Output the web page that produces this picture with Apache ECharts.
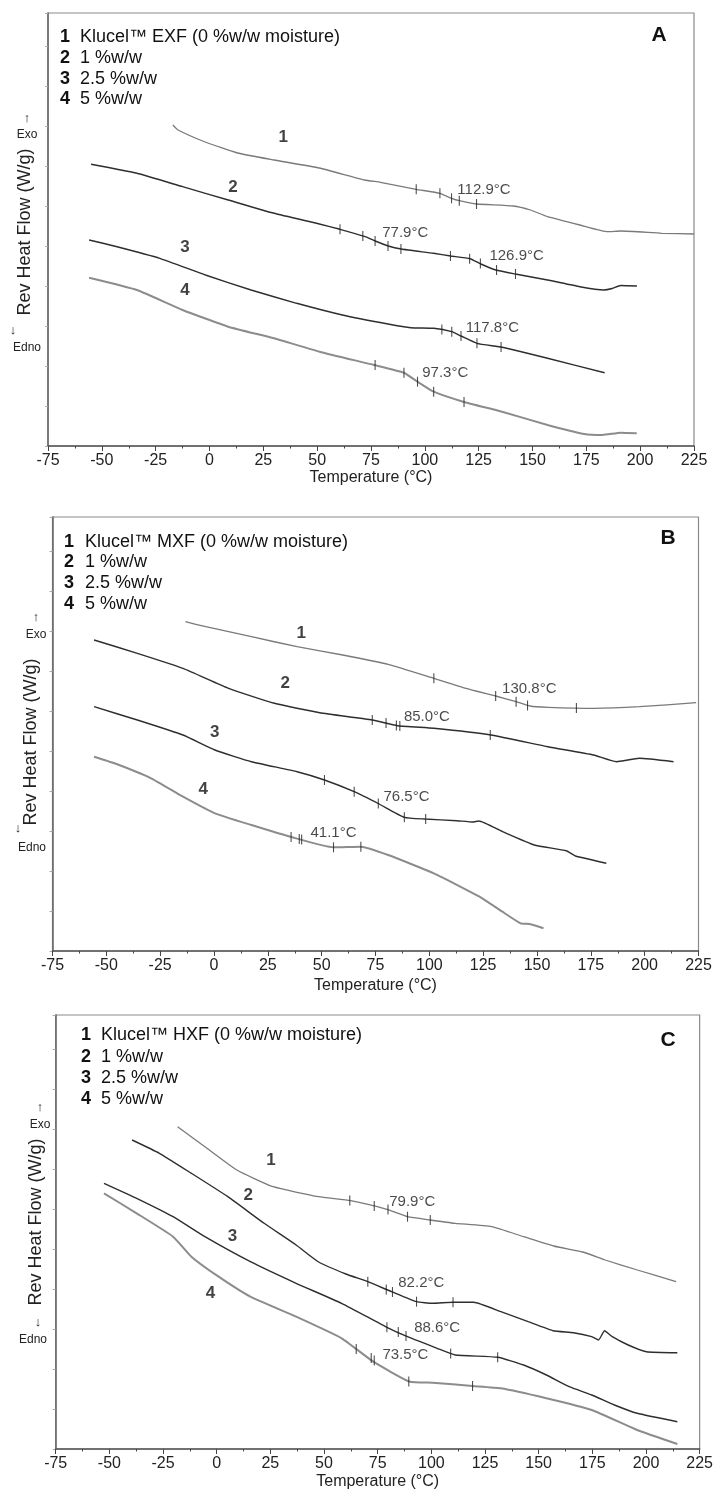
<!DOCTYPE html>
<html>
<head>
<meta charset="utf-8">
<title>Klucel rev heat flow</title>
<script src="https://cdn.jsdelivr.net/npm/echarts@6/dist/echarts.min.js"></script>
<style>
  html, body { margin: 0; background: #fff; }
  #chart { width: 716px; height: 1492px; }
</style>
</head>
<body>
<div id="chart"></div>
<script>
// temperature axis
var xMin = -75, xMax = 225, xStep = 25;

var legendNums = ['1', '2', '3', '4'];

// ---- panel A : Klucel EXF ----  [temperature, heat flow (arbitrary units)]
var aLegend = ['Klucel\u2122 EXF (0 %w/w moisture)', '1 %w/w', '2.5 %w/w', '5 %w/w'];
var aCurve1 = [[-17,321],[-14.6,316],[-2,304],[13,293],[30,286],[51,278],[72,266],[79.4,263.7],[96,256.7],[107,252.7],[112.4,247.7],[116,245.3],[124,242],[141,240],[149,236],[157,229.3],[172,221],[185,214.3],[191,215],[210,212.7],[225,212]];
var aCurve2 = [[-55,281.7],[-33.7,272.7],[-12.5,259.3],[8.7,246],[30,232.7],[51,222],[60.6,216.7],[72.3,209.3],[76.9,205],[83,200],[89,197],[104,192.7],[112,190],[121,187.3],[126,182],[133,176],[142,172],[157,166],[172,159.3],[183,156],[187,157.5],[191,160.5],[198.5,160]];
var aCurve3 = [[-55.9,206],[-44.3,200],[-23.1,187.7],[-1.9,171],[19.3,156],[40.5,142.7],[61.7,131],[82.9,122],[93.5,118.3],[104.1,117.7],[112.5,114.3],[116.8,110],[124.2,102.7],[135.9,98.7],[157,87.7],[183.5,73.3]];
var aCurve4 = [[-55.9,168.3],[-33.7,156],[-12.5,136],[8.7,119.3],[29.9,107.7],[51.1,94.3],[76.5,81],[90.3,73.3],[96.6,64.3],[104.1,54.3],[117.8,44.3],[135.9,34.3],[157,21],[174,12],[182.5,11],[191,13.3],[198.4,12.7]];
var aTicks = [[96,256.7],[107,252.7],[112.4,247.7],[116,245.3],[124,242],
  [60.6,216.7],[71.2,210],[76.9,205],[82.9,200],[88.9,197],
  [111.9,190],[120.8,187.3],[125.8,182.5],[133.3,176],[142.1,172],
  [107.9,116.5],[112.5,114.3],[116.8,110],[124.2,102.7],[135.4,98.9],
  [76.9,81],[90.3,73.3],[96.6,64.3],[104.1,54.3],[118.2,44]];
var aTgText = ['112.9\u00b0C', '77.9\u00b0C', '126.9\u00b0C', '117.8\u00b0C', '97.3\u00b0C'];
var aTgPos = [[115.1,256],[80.2,212.7],[130,190],[119,118],[98.8,73]];
var aNumPos = [[34.2,309],[10.9,259],[-11.4,199],[-11.4,156]];

// ---- panel B : Klucel MXF ----
var bLegend = ['Klucel\u2122 MXF (0 %w/w moisture)', '1 %w/w', '2.5 %w/w', '5 %w/w'];
var bCurve1 = [[-13.3,329.3],[-3.8,324.3],[17.4,314.3],[38.6,304.3],[59.8,296],[80.9,286.7],[102.1,272.7],[117,262.7],[130.8,255],[140.3,249.3],[146.7,245],[155.1,243.7],[176.3,242.7],[197.5,244.3],[223.9,248.3]];
var bCurve2 = [[-55.7,311],[-35.6,297.7],[-14.4,282.7],[6.8,262.7],[28,247.7],[49.1,238.3],[73.5,231],[85.2,225.3],[102.1,222.7],[128.6,216],[155.1,204.3],[176.3,196],[186.9,189.3],[197.5,192.7],[213.4,189.3]];
var bCurve3 = [[-55.7,244.3],[-35.6,231],[-14.4,216],[0.4,201],[17.4,189.3],[38.6,179.3],[51.3,171],[65.1,159.3],[76.7,147],[88.4,133.7],[97.9,132],[112.8,130.3],[120,129],[123,130],[134,119.3],[148.7,106],[163.6,100.3],[167.8,95],[182.2,87.7]];
var bCurve4 = [[-55.7,194.3],[-46.2,187.7],[-29.2,172.7],[-14.4,154.3],[0.4,137.7],[17.4,126],[36.4,113.7],[55.5,103.7],[68.2,104.3],[80.9,96],[102.1,77.7],[123.3,54.3],[133.9,39.3],[142.4,27.7],[146.6,27],[153,22.7]];
var bTicks = [[102.1,272.7],[130.8,255],[140.3,249.3],[145.6,245.5],[168.3,243],
  [73.5,231],[79.9,228],[84.7,225.5],[86.3,225],[128.3,216],
  [51.3,171],[65.1,159.3],[76.3,147.5],[88.4,133.7],[98.3,132],
  [35.8,114],[39.6,112],[40.7,111.5],[55.5,103.7],[68.2,104.3]];
var bTgText = ['130.8\u00b0C', '85.0\u00b0C', '76.5\u00b0C', '41.1\u00b0C'];
var bTgPos = [[133.8,262],[88.2,234],[78.7,154],[44.8,118]];
var bNumPos = [[40.5,317.7],[33.1,267.7],[0.3,219],[-5,161.7]];

// ---- panel C : Klucel HXF ----
var cLegend = ['Klucel\u2122 HXF (0 %w/w moisture)', '1 %w/w', '2.5 %w/w', '5 %w/w'];
var cCurve1 = [[-18.2,322.3],[-5.5,302.3],[9.4,279],[26.3,262.3],[47.5,252.3],[62.4,248.3],[79.3,239.7],[88.9,232.3],[99.5,229],[111.1,225.7],[128.1,222.3],[143,212.3],[157,203],[170.5,197],[181,189],[196,179],[214,167.3]];
var cCurve2 = [[-39.4,309],[-26.7,295.7],[-11.8,275.7],[5.2,252.3],[22.1,225.7],[37,204],[47.5,187],[60.2,175],[70.4,167.3],[81.5,157.3],[93.1,147.3],[100.6,145.7],[110.1,146.7],[119.7,146.7],[132.4,137.3],[145.1,127.3],[156.7,118.3],[166.2,116.3],[174.7,112.3],[177.9,109],[180.7,118.3],[184.3,112.3],[191.7,104],[200.2,97.3],[214.6,96.3]];
var cCurve3 = [[-52.5,265.7],[-37.3,250.7],[-20.3,232.3],[-5.5,212.3],[15.7,187.3],[37,165.7],[58.2,145.7],[79.3,121.7],[88.9,112.3],[102.7,100.7],[111.1,94],[130.9,91.7],[143,84],[153.6,74],[164.2,62.3],[174.7,54],[185.3,44],[195.9,35.7],[214.6,27.3]];
var cCurve4 = [[-52.5,255.7],[-37.3,235.7],[-20.3,212.3],[-11.8,192.3],[0.9,172.3],[15.7,152.3],[37,132.3],[58.2,110.7],[73,87.3],[90,67.3],[100.6,66.3],[119.2,63],[132.4,60.7],[153.6,50.7],[174.7,39],[195.9,19],[214.6,5]];
var cTicks = [[62,248.5],[73.4,243],[79.8,239.5],[88.9,232.3],[99.5,229],
  [70.4,167.3],[79,159.5],[81.9,157],[93.1,147.3],[110.1,146.7],
  [79.3,121.7],[84.6,117],[88.2,113],[109,95.5],[130.9,91.7],
  [65,100],[72,91],[73.4,88.5],[89.5,67.5],[119.2,63]];
var cTgText = ['79.9\u00b0C', '82.2\u00b0C', '88.6\u00b0C', '73.5\u00b0C'];
var cTgPos = [[80.4,247],[84.6,166],[92,121],[77.2,94]];
var cNumPos = [[25.3,289],[14.7,254],[7.3,212.3],[-2.9,155.7]];

var FONT = "'Liberation Sans', Arial, sans-serif";

// layout of the three frames (pixels)
var panels = [
  { letter: 'A', left: 48, top: 13, width: 646, height: 433, legend: aLegend,
    curves: [aCurve1, aCurve2, aCurve3, aCurve4], ticks: aTicks, tgText: aTgText, tgPos: aTgPos, numPos: aNumPos,
    legX: 60, legTextX: 80, legY: [37, 58, 79, 99.5], letterPos: [659, 35], nameGap: 23,
    yName: [25, 232], exo: [[27,118],[27,135]], endo: [[13,330],[27,348]] },
  { letter: 'B', left: 52.5, top: 517, width: 646, height: 434, legend: bLegend,
    curves: [bCurve1, bCurve2, bCurve3, bCurve4], ticks: bTicks, tgText: bTgText, tgPos: bTgPos, numPos: bNumPos,
    legX: 64, legTextX: 85, legY: [542, 562, 583, 604], letterPos: [668, 538], nameGap: 27,
    yName: [31, 742], exo: [[36,617],[36,635]], endo: [[18,828],[32,848]] },
  { letter: 'C', left: 55.7, top: 1015, width: 646, height: 434, legend: cLegend,
    curves: [cCurve1, cCurve2, cCurve3, cCurve4], ticks: cTicks, tgText: cTgText, tgPos: cTgPos, numPos: cNumPos,
    legX: 81, legTextX: 101, legY: [1035, 1057, 1078, 1099], letterPos: [668, 1040], nameGap: 25,
    yName: [36, 1222], exo: [[40,1107],[40,1125]], endo: [[38,1322],[33,1340]] }
];

var curveColors = ['#7a7a7a', '#2e2e2e', '#2e2e2e', '#8c8c8c'];
var curveWidths = [1.3, 1.4, 1.4, 2];

var grids = [], xAxes = [], yAxes = [], series = [], graphics = [];

panels.forEach(function (p, i) {
  grids.push({ left: p.left, top: p.top, width: p.width, height: p.height,
    show: true, borderColor: '#8a8a8a', borderWidth: 1.2, backgroundColor: '#fff' });
  xAxes.push({
    gridIndex: i, type: 'value', min: xMin, max: xMax, interval: xStep,
    name: 'Temperature (\u00b0C)', nameLocation: 'middle', nameGap: p.nameGap,
    nameTextStyle: { fontFamily: FONT, fontSize: 16, color: '#222' },
    axisLine: { onZero: false, lineStyle: { color: '#555', width: 1.5 } },
    axisTick: { length: 5, lineStyle: { color: '#444' } },
    minorTick: { show: true, splitNumber: 2, length: 2.5, lineStyle: { color: '#444' } },
    axisLabel: { fontFamily: FONT, fontSize: 16, color: '#222', margin: 7 },
    splitLine: { show: false }
  });
  yAxes.push({
    gridIndex: i, type: 'value', min: 0, max: p.height, interval: 40,
    axisLine: { show: true, onZero: false, lineStyle: { color: '#666', width: 1.5 } },
    axisTick: { show: true, length: 3, lineStyle: { color: '#aaa' } },
    axisLabel: { show: false }, splitLine: { show: false }
  });
  p.curves.forEach(function (c, k) {
    series.push({ type: 'line', xAxisIndex: i, yAxisIndex: i, data: c, showSymbol: false,
      smooth: 0.15, lineStyle: { color: curveColors[k], width: curveWidths[k] }, silent: true, z: 2 });
  });
  series.push({ type: 'scatter', xAxisIndex: i, yAxisIndex: i, data: p.ticks,
    symbol: 'rect', symbolSize: [1.1, 10], itemStyle: { color: '#222' }, silent: true, z: 3 });
  series.push({ type: 'scatter', xAxisIndex: i, yAxisIndex: i, symbolSize: 0, silent: true, z: 4,
    data: p.tgPos.map(function (pt, k) { return { value: pt, name: p.tgText[k] }; }),
    label: { show: true, position: [0, 0], align: 'left', verticalAlign: 'middle',
      formatter: '{b}', fontFamily: FONT, fontSize: 15, color: '#1a1a1a' } });
  series.push({ type: 'scatter', xAxisIndex: i, yAxisIndex: i, symbolSize: 0, silent: true, z: 4,
    data: p.numPos.map(function (pt, k) { return { value: pt, name: legendNums[k] }; }),
    label: { show: true, position: [0, 0], align: 'center', verticalAlign: 'middle',
      formatter: '{b}', fontFamily: FONT, fontSize: 17, fontWeight: 'bold', color: '#111' } });

  // legend block
  p.legend.forEach(function (t, k) {
    graphics.push({ type: 'text', x: p.legX, y: p.legY[k], z: 10,
      style: { text: legendNums[k], font: 'bold 18px ' + FONT, fill: '#111', verticalAlign: 'middle' } });
    graphics.push({ type: 'text', x: p.legTextX, y: p.legY[k], z: 10,
      style: { text: t, font: '18px ' + FONT, fill: '#111', verticalAlign: 'middle' } });
  });
  graphics.push({ type: 'text', x: p.letterPos[0], y: p.letterPos[1], z: 10,
    style: { text: p.letter, font: 'bold 21px ' + FONT, fill: '#111', align: 'center', verticalAlign: 'middle' } });
  // y axis title and exo / endo marks
  graphics.push({ type: 'text', x: p.yName[0], y: p.yName[1], rotation: Math.PI / 2, z: 10,
    style: { text: 'Rev Heat Flow (W/g)', font: '18px ' + FONT, fill: '#222', align: 'center', verticalAlign: 'middle' } });
  graphics.push({ type: 'text', x: p.exo[0][0], y: p.exo[0][1], z: 10,
    style: { text: '\u2191', font: '13px ' + FONT, fill: '#222', align: 'center', verticalAlign: 'middle' } });
  graphics.push({ type: 'text', x: p.exo[1][0], y: p.exo[1][1], z: 10,
    style: { text: 'Exo', font: '12px ' + FONT, fill: '#222', align: 'center', verticalAlign: 'middle' } });
  graphics.push({ type: 'text', x: p.endo[0][0], y: p.endo[0][1], z: 10,
    style: { text: '\u2193', font: '13px ' + FONT, fill: '#222', align: 'center', verticalAlign: 'middle' } });
  graphics.push({ type: 'text', x: p.endo[1][0], y: p.endo[1][1], z: 10,
    style: { text: 'Edno', font: '12px ' + FONT, fill: '#222', align: 'center', verticalAlign: 'middle' } });
});

var myChart = echarts.init(document.getElementById('chart'));
myChart.setOption({
  backgroundColor: '#fff',
  animation: false,
  grid: grids,
  xAxis: xAxes,
  yAxis: yAxes,
  series: series,
  graphic: graphics
});
</script>
</body>
</html>
